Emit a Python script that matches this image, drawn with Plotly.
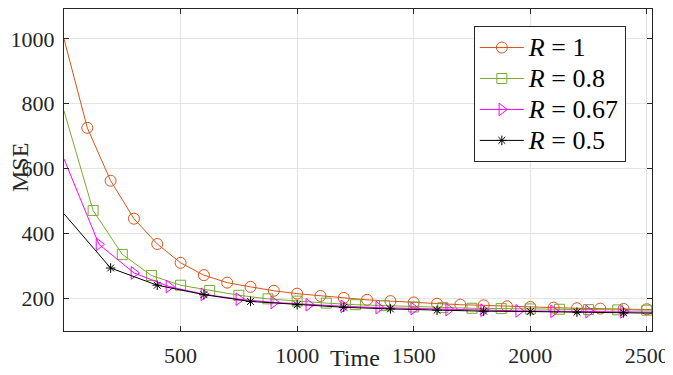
import plotly.graph_objects as go

# values (time, MSE); first point is the start of the line, last is where it leaves the frame
R1_TIME = [0, 100, 200, 300, 400, 500, 600, 700, 800, 900, 1000, 1100, 1200, 1300, 1400,
           1500, 1600, 1700, 1800, 1900, 2000, 2100, 2200, 2300, 2400, 2500, 2522]
R1_MSE  = [1000, 726, 563, 446, 368, 310, 272, 249, 236, 224, 215, 208, 202, 196, 192,
           188, 184, 181, 179, 176, 174, 172, 170, 169, 168, 167, 166]

R08_TIME = [0, 125, 250, 375, 500, 625, 750, 875, 1000, 1125, 1250, 1375, 1500, 1625,
            1750, 1875, 2000, 2125, 2250, 2375, 2500, 2522]
R08_MSE  = [778, 471, 336, 271, 241, 225, 210, 199, 192, 186, 181, 178, 174, 172,
            170, 169, 168, 167, 166, 165, 164, 164]

R067_TIME = [0, 150, 300, 450, 600, 750, 900, 1050, 1200, 1350, 1500, 1650, 1800,
             1950, 2100, 2250, 2400, 2522]
R067_MSE  = [630, 367, 279, 237, 213, 198, 188, 181, 176, 172, 169, 166, 164,
             162, 161, 160, 159, 158]

R05_TIME = [0, 200, 400, 600, 800, 1000, 1200, 1400, 1600, 1800, 2000, 2200, 2400, 2522]
R05_MSE  = [461, 294, 241, 212, 191, 181, 173, 168, 164, 161, 160, 158, 156, 155]

R_LABELS = ["1", "0.8", "0.67", "0.5"]
COLORS   = ["#D95319", "#77AC30", "#FF00FF", "#000000"]
SYMBOLS  = ["circle-open", "square-open", "triangle-right-open", "asterisk-open"]
SIZES    = [11, 10, 11, 8]

X_TICKS = [500, 1000, 1500, 2000, 2500]
Y_TICKS = [200, 400, 600, 800, 1000]

FONT = "Liberation Serif"
AXIS_COLOR = "#262626"

series = [
    (R1_TIME, R1_MSE),
    (R08_TIME, R08_MSE),
    (R067_TIME, R067_MSE),
    (R05_TIME, R05_MSE),
]

fig = go.Figure()

for idx, (ts, ys) in enumerate(series):
    fig.add_trace(
        go.Scatter(
            x=ts
            , y=ys
            , mode="lines"
            , showlegend=False
            , line=dict(width=1, color=COLORS[idx])
        )
    )
    fig.add_trace(
        go.Scatter(
            x=ts[1:-1]
            , y=ys[1:-1]
            , mode="markers"
            , showlegend=False
            , marker=dict(
                symbol=SYMBOLS[idx]
                , size=SIZES[idx]
                , color=COLORS[idx]
                , line=dict(width=1, color=COLORS[idx])
            )
        )
    )

# legend rows are spaced by the legend font size, the text itself is drawn bigger through a span
for idx, r in enumerate(R_LABELS):
    fig.add_trace(
        go.Scatter(
            x=[None]
            , y=[None]
            , mode="lines+markers"
            , name=f'<span style="font-size:26px"><i>R</i> = {r}</span>'
            , line=dict(width=1, color=COLORS[idx])
            , marker=dict(
                symbol=SYMBOLS[idx]
                , size=SIZES[idx]
                , color=COLORS[idx]
                , line=dict(width=1, color=COLORS[idx])
            )
        )
    )

axis_style = dict(
    showline=True
    , mirror="ticks"
    , linecolor=AXIS_COLOR
    , linewidth=1
    , ticks="inside"
    , ticklen=5
    , tickcolor=AXIS_COLOR
    , showgrid=True
    , gridcolor="#E5E5E5"
    , gridwidth=1
    , zeroline=False
    , automargin=False
    , tickfont=dict(family=FONT, size=22, color=AXIS_COLOR)
)

# the page body has an 8px margin, so the figure is 8px smaller and shifted margins make up for it
fig.update_layout(
    width=665
    , height=367
    , margin=dict(l=56, r=21, t=1, b=44, pad=0)
    , plot_bgcolor="white"
    , paper_bgcolor="white"
    , font=dict(family=FONT, color=AXIS_COLOR)
    , xaxis=dict(range=[0, 2522], tickmode="array", tickvals=X_TICKS, ticklabelstandoff=5, **axis_style)
    , yaxis=dict(range=[100, 1092], tickmode="array", tickvals=Y_TICKS, ticklabelstandoff=4, **axis_style)
    , legend=dict(
        x=0.697
        , y=0.947
        , xanchor="left"
        , yanchor="top"
        , bgcolor="white"
        , bordercolor=AXIS_COLOR
        , borderwidth=1
        , font=dict(family=FONT, size=21.5, color="#000000")
        , itemwidth=44
    )
    , annotations=[
        dict(
            text="Time", xref="paper", yref="paper", x=0.495, y=-0.084
            , xanchor="center", yanchor="middle", showarrow=False
            , font=dict(family=FONT, size=24, color=AXIS_COLOR)
        )
        , dict(
            text="MSE", xref="paper", yref="paper", x=-0.075, y=0.509
            , xanchor="center", yanchor="middle", showarrow=False, textangle=-90
            , font=dict(family=FONT, size=24, color=AXIS_COLOR)
        )
    ]
)

fig.write_html("out.html")
